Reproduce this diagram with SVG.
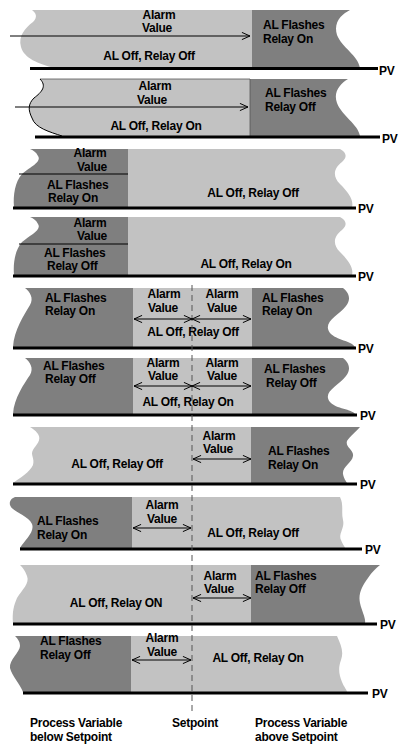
<svg xmlns="http://www.w3.org/2000/svg" width="401" height="746" viewBox="0 0 401 746">
<style>
.t{font-family:"Liberation Sans",Arial,sans-serif;font-weight:bold;font-size:12px;letter-spacing:-0.25px;fill:#000}
.m{text-anchor:middle}
.lt{fill:#c2c2c2}
.dk{fill:#7f7f7f}
.pv{stroke:#000;stroke-width:3;fill:none}
.ar{stroke:#000;stroke-width:1;fill:none}
.thin{stroke:#000;stroke-width:1;fill:none}
</style>
<defs>
<marker id="ah" viewBox="0 0 10 10" refX="10" refY="5" markerWidth="9" markerHeight="9" markerUnits="userSpaceOnUse" orient="auto-start-reverse">
<path d="M1,1 L10,5 L1,9" fill="none" stroke="#000" stroke-width="1.1"/>
</marker>
</defs>
<rect width="401" height="746" fill="#fff"/>

<g id="panel1">
<path class="lt" d="M32,10 C36,13 38,17 33,22 C25,28 18,36 21,47 C24,58 38,64 55,68 L252,68 L252,10 Z"/>
<path class="dk" d="M252,10 L350,10 C342,14 333,22 337,35 C342,48 358,55 360,68 L252,68 Z"/>
<line class="pv" x1="30" y1="68.5" x2="378" y2="68.5"/>
<text class="t m" x="159" y="18.5">Alarm</text>
<text class="t m" x="157" y="32">Value</text>
<text class="t m" x="149" y="60">AL Off, Relay Off</text>
<text class="t" x="263" y="29">AL Flashes</text>
<text class="t" x="263" y="43">Relay On</text>
<text class="t" x="379" y="75">PV</text>
</g>

<g id="panel2">
<path class="lt" d="M40,79 L250,79 L250,136 L62,136 C50,132 35,128 32,118 C28,110 28,104 34,98 C42,92 47,86 40,79 Z"/>
<path class="dk" d="M250,79 L348,79 C340,84 333,92 337,103 C342,116 358,124 360,136 L250,136 Z"/>
<path d="M40,79 L250,79 L250,136" fill="none" stroke="#555" stroke-width="0.8"/>
<path class="thin" d="M40,79 C47,86 42,92 34,98 C28,104 28,110 32,118 C35,128 50,132 62,136"/>
<line class="pv" x1="35" y1="137" x2="380" y2="137"/>
<text class="t m" x="155" y="90">Alarm</text>
<text class="t m" x="152" y="103.5">Value</text>
<text class="t m" x="156" y="130">AL Off, Relay On</text>
<text class="t" x="265" y="97">AL Flashes</text>
<text class="t" x="265" y="111">Relay Off</text>
<text class="t" x="382" y="143">PV</text>
</g>

<g id="panel3">
<path class="dk" d="M30,149 L128,149 L128,207 L14,207 C13,195 15,182 22,174 C30,167 42,162 38,156 C36,152 33,150 30,149 Z"/>
<path class="lt" d="M128,149 L340,149 C346,152 348,157 342,162 C334,168 332,176 340,184 C348,192 354,200 352,207 L128,207 Z"/>
<line class="thin" x1="19" y1="174" x2="128" y2="174"/>
<line class="pv" x1="13" y1="208" x2="356" y2="208"/>
<text class="t m" x="90" y="157">Alarm</text>
<text class="t m" x="92" y="170.5">Value</text>
<text class="t" x="47" y="188.5">AL Flashes</text>
<text class="t" x="48" y="202">Relay On</text>
<text class="t m" x="253" y="197">AL Off, Relay Off</text>
<text class="t" x="358" y="213">PV</text>
</g>

<g id="panel4">
<path class="dk" d="M30,217 L128,217 L128,275 L14,275 C13,263 15,250 22,242 C30,235 42,230 38,224 C36,220 33,218 30,217 Z"/>
<path class="lt" d="M128,217 L340,217 C346,220 348,225 342,230 C334,236 332,244 340,252 C348,260 354,268 352,275 L128,275 Z"/>
<line class="thin" x1="19" y1="244" x2="128" y2="244"/>
<line class="pv" x1="13" y1="276" x2="356" y2="276"/>
<text class="t m" x="90" y="226.5">Alarm</text>
<text class="t m" x="92" y="240">Value</text>
<text class="t" x="44" y="256.5">AL Flashes</text>
<text class="t" x="47" y="270">Relay Off</text>
<text class="t m" x="246" y="268">AL Off, Relay On</text>
<text class="t" x="358" y="281">PV</text>
</g>

<g id="panel5">
<path class="dk" d="M25,288 L133,288 L133,347 L13,347 C14,330 24,315 30,305 C34,298 30,292 25,288 Z"/>
<rect class="lt" x="133" y="288" width="119" height="59"/>
<path class="dk" d="M252,288 L343,288 C348,292 352,298 346,306 C338,316 322,322 330,333 C336,340 352,341 355,347 L252,347 Z"/>
<line class="pv" x1="13" y1="348" x2="356" y2="348"/>
<text class="t" x="45" y="301.5">AL Flashes</text>
<text class="t" x="45" y="315">Relay On</text>
<text class="t m" x="164" y="298">Alarm</text>
<text class="t m" x="163" y="311.5">Value</text>
<text class="t m" x="222" y="298">Alarm</text>
<text class="t m" x="222" y="311.5">Value</text>
<text class="t m" x="193" y="336">AL Off, Relay Off</text>
<text class="t" x="262" y="301.5">AL Flashes</text>
<text class="t" x="262" y="315">Relay On</text>
<text class="t" x="358" y="353">PV</text>
</g>

<g id="panel6">
<path class="dk" d="M25,358 L133,358 L133,414 L13,414 C14,398 24,384 30,375 C34,368 30,362 25,358 Z"/>
<rect class="lt" x="133" y="358" width="119" height="56"/>
<path class="dk" d="M252,358 L343,358 C348,362 352,368 346,376 C338,386 322,392 330,402 C336,409 352,409 355,414 L252,414 Z"/>
<line class="pv" x1="13" y1="415" x2="357" y2="415"/>
<text class="t" x="43" y="369.5">AL Flashes</text>
<text class="t" x="45" y="383">Relay Off</text>
<text class="t m" x="163" y="366.5">Alarm</text>
<text class="t m" x="163" y="380">Value</text>
<text class="t m" x="222" y="366.5">Alarm</text>
<text class="t m" x="222" y="380">Value</text>
<text class="t m" x="188" y="406">AL Off, Relay On</text>
<text class="t" x="264" y="373">AL Flashes</text>
<text class="t" x="266" y="386.5">Relay Off</text>
<text class="t" x="360" y="420">PV</text>
</g>

<g id="panel7">
<path class="lt" d="M30,427 L251,427 L251,483 L13,483 C20,478 30,472 33,465 C35,458 30,455 33,450 C36,445 42,440 38,434 C35,430 32,428 30,427 Z"/>
<path class="dk" d="M251,427 L360,427 C356,432 350,436 347,441 C345,447 354,450 353,456 C352,463 342,467 343,474 C344,479 346,481 347,483 L251,483 Z"/>
<line class="pv" x1="13" y1="484" x2="357" y2="484"/>
<text class="t m" x="219" y="439.5">Alarm</text>
<text class="t m" x="218" y="453">Value</text>
<text class="t m" x="117" y="468">AL Off, Relay Off</text>
<text class="t" x="268" y="455">AL Flashes</text>
<text class="t" x="268" y="468.5">Relay On</text>
<text class="t" x="360" y="489">PV</text>
</g>

<g id="panel8">
<path class="dk" d="M15,497 L132,497 L132,548 L20,548 C25,540 35,532 32,524 C28,515 12,512 10,505 C9,501 12,498 15,497 Z"/>
<path class="lt" d="M132,497 L340,497 C344,505 341,512 343,520 C345,528 338,534 341,540 C343,545 345,547 345,548 L132,548 Z"/>
<line class="pv" x1="20" y1="549" x2="362" y2="549"/>
<text class="t m" x="162" y="509">Alarm</text>
<text class="t m" x="162" y="522.5">Value</text>
<text class="t" x="37" y="525">AL Flashes</text>
<text class="t" x="37" y="538.5">Relay On</text>
<text class="t m" x="253" y="537">AL Off, Relay Off</text>
<text class="t" x="365" y="554">PV</text>
</g>

<g id="panel9">
<path class="lt" d="M20,565 L251,565 L251,623 L13,623 C12,612 14,605 17,598 C22,590 30,583 27,576 C25,570 22,567 20,565 Z"/>
<path class="dk" d="M251,565 L380,565 C376,568 372,572 368,578 C362,586 358,594 360,603 C362,612 366,618 365,623 L251,623 Z"/>
<line class="pv" x1="13" y1="624" x2="377" y2="624"/>
<text class="t m" x="220" y="579.5">Alarm</text>
<text class="t m" x="219" y="593">Value</text>
<text class="t" x="255" y="579.5">AL Flashes</text>
<text class="t" x="255" y="593">Relay Off</text>
<text class="t m" x="116" y="607">AL Off, Relay ON</text>
<text class="t" x="380" y="629">PV</text>
</g>

<g id="panel10">
<path class="dk" d="M15,636 L131,636 L131,692 L23,692 C20,684 12,676 10,668 C9,660 20,652 20,646 C20,641 17,638 15,636 Z"/>
<path class="lt" d="M131,636 L337,636 C341,645 344,652 341,660 C338,668 339,675 342,682 C344,687 347,690 347,692 L131,692 Z"/>
<line class="pv" x1="23" y1="693" x2="368" y2="693"/>
<text class="t m" x="162" y="642">Alarm</text>
<text class="t m" x="162" y="655.5">Value</text>
<text class="t" x="40" y="645">AL Flashes</text>
<text class="t" x="40" y="659">Relay Off</text>
<text class="t m" x="258" y="662">AL Off, Relay On</text>
<text class="t" x="372" y="698">PV</text>
</g>

<g id="connectors">
<line x1="192" y1="285" x2="192" y2="712" stroke="#555" stroke-width="1" stroke-dasharray="6,4"/>
<line class="ar" x1="10" y1="36" x2="250" y2="36" marker-end="url(#ah)"/>
<line class="ar" x1="15" y1="107" x2="248" y2="107" marker-end="url(#ah)"/>
<line class="ar" x1="134" y1="319" x2="192" y2="319" marker-start="url(#ah)" marker-end="url(#ah)"/>
<line class="ar" x1="192" y1="319" x2="251" y2="319" marker-start="url(#ah)" marker-end="url(#ah)"/>
<line class="ar" x1="134" y1="386" x2="192" y2="386" marker-start="url(#ah)" marker-end="url(#ah)"/>
<line class="ar" x1="192" y1="386" x2="251" y2="386" marker-start="url(#ah)" marker-end="url(#ah)"/>
<line class="ar" x1="193" y1="459" x2="251" y2="459" marker-start="url(#ah)" marker-end="url(#ah)"/>
<line class="ar" x1="133" y1="528" x2="191" y2="528" marker-start="url(#ah)" marker-end="url(#ah)"/>
<line class="ar" x1="193" y1="598" x2="251" y2="598" marker-start="url(#ah)" marker-end="url(#ah)"/>
<line class="ar" x1="132" y1="660" x2="191" y2="660" marker-start="url(#ah)" marker-end="url(#ah)"/>
</g>

<g id="labels">
<text class="t" x="30" y="727">Process Variable</text>
<text class="t" x="30" y="740.5">below Setpoint</text>
<text class="t m" x="195" y="727">Setpoint</text>
<text class="t" x="255" y="727">Process Variable</text>
<text class="t" x="255" y="740.5">above Setpoint</text>
</g>
</svg>
